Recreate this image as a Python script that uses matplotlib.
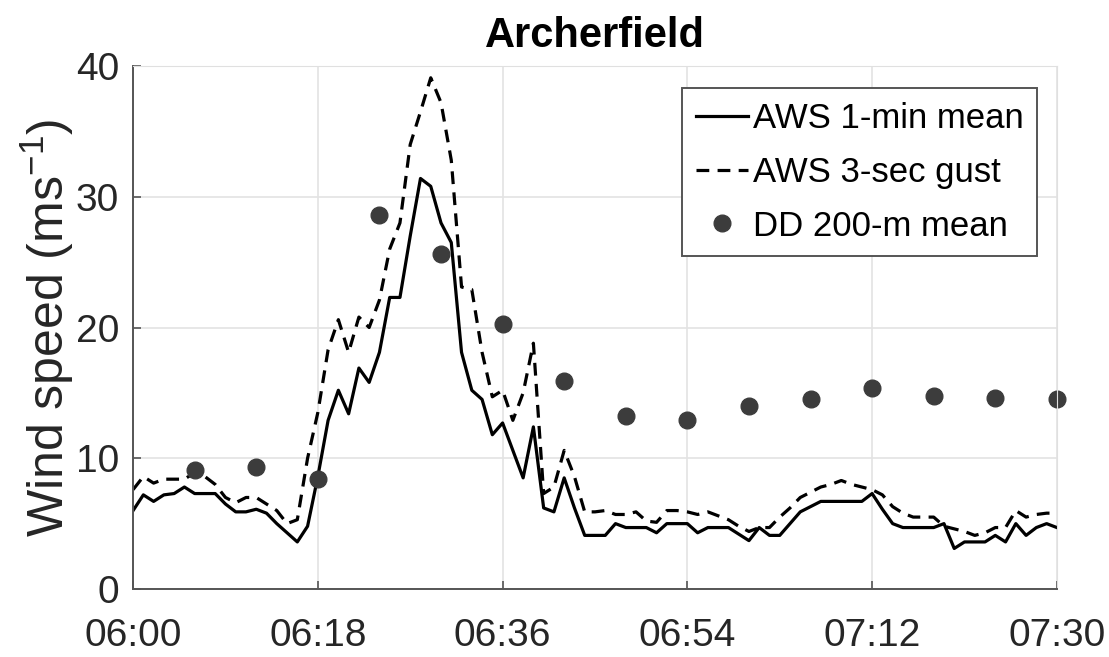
import matplotlib
matplotlib.use('Agg')
import matplotlib.pyplot as plt

#-----------------DATA-----------------

# minutes after 06:00, one sample per minute
minutes = list(range(0, 91))

# AWS 1-min mean wind speed (m/s)
aws_mean = [6.0, 7.2, 6.7, 7.2, 7.3, 7.8, 7.3, 7.3, 7.3, 6.5,
            5.9, 5.9, 6.1, 5.8, 5.0, 4.3, 3.6, 4.8, 8.6, 12.9,
            15.2, 13.4, 16.9, 15.8, 18.1, 22.3, 22.3, 27.0, 31.4, 30.8,
            28.0, 26.5, 18.1, 15.2, 14.5, 11.8, 12.7, 10.6, 8.5, 12.4,
            6.2, 5.9, 8.5, 6.2, 4.1, 4.1, 4.1, 5.0, 4.7, 4.7,
            4.7, 4.3, 5.0, 5.0, 5.0, 4.3, 4.7, 4.7, 4.7, 4.2,
            3.7, 4.7, 4.1, 4.1, 5.0, 5.9, 6.3, 6.7, 6.7, 6.7,
            6.7, 6.7, 7.3, 6.1, 5.0, 4.7, 4.7, 4.7, 4.7, 5.0,
            3.1, 3.6, 3.6, 3.6, 4.1, 3.6, 5.0, 4.1, 4.7, 5.0,
            4.7]

# AWS 3-sec gust (m/s)
aws_gust = [7.6, 8.6, 8.1, 8.4, 8.4, 8.4, 8.9, 8.6, 8.0, 7.0,
            6.6, 7.0, 7.0, 6.5, 6.0, 5.0, 5.3, 10.0, 13.5, 18.3,
            20.6, 18.1, 20.8, 20.0, 22.1, 26.0, 28.0, 34.0, 36.5, 39.1,
            37.2, 32.8, 23.1, 22.9, 18.1, 14.7, 15.2, 12.9, 15.0, 18.8,
            7.3, 7.8, 10.6, 8.6, 5.9, 5.9, 6.0, 5.7, 5.7, 5.9,
            5.2, 5.1, 6.0, 6.0, 5.9, 5.7, 5.9, 5.6, 5.3, 4.8,
            4.4, 4.7, 4.7, 5.5, 6.2, 7.0, 7.4, 7.8, 8.0, 8.3,
            8.0, 7.8, 7.6, 7.2, 6.3, 5.8, 5.5, 5.5, 5.5, 4.8,
            4.6, 4.4, 4.1, 4.3, 4.7, 4.7, 6.0, 5.5, 5.7, 5.8,
            5.8]

# DD 200-m mean, every 6 minutes
dd_minutes = [6, 12, 18, 24, 30, 36, 42, 48, 54, 60, 66, 72, 78, 84, 90]
dd_mean = [9.1, 9.3, 8.4, 28.6, 25.6, 20.3, 15.9, 13.2, 12.9, 14.0,
           14.5, 15.4, 14.8, 14.6, 14.5]

tick_minutes = [0, 18, 36, 54, 72, 90]
tick_labels = ['06:00', '06:18', '06:36', '06:54', '07:12', '07:30']
y_ticks = [0, 10, 20, 30, 40]

#-----------------GRAPH-----------------

plt.rcParams['font.family'] = ['Liberation Sans', 'DejaVu Sans']
plt.rcParams['mathtext.default'] = 'regular'

fig = plt.figure(figsize=(11.09, 6.57), dpi=100)
ax = fig.add_axes([0.12, 0.1035, 0.833, 0.796])

ax.plot(minutes, aws_mean, color='black', lw=2.3, label='AWS 1-min mean')
ax.plot(minutes, aws_gust, color='black', lw=2.3, ls=(0, (4, 2.6)),
        label='AWS 3-sec gust')
ax.plot(dd_minutes, dd_mean, 'o', color='#3c3c3c', ms=12, ls='none',
        label='DD 200-m mean', clip_on=False)

ax.set_xlim(0, 90)
ax.set_ylim(0, 40)
ax.set_xticks(tick_minutes)
ax.set_xticklabels(tick_labels)
ax.set_yticks(y_ticks)

ax.grid(True, color='#e3e3e3', lw=1.2)
ax.set_axisbelow(True)
for side in ['top', 'right']:
    ax.spines[side].set_color('#e0e0e0')
for side in ['left', 'bottom']:
    ax.spines[side].set_color('#555555')
    ax.spines[side].set_linewidth(1.4)

ax.tick_params(direction='in', length=6, color='#555555', width=1.2,
               labelsize=28, labelcolor='#262626')
ax.tick_params(axis='x', pad=21)
ax.tick_params(axis='y', pad=10)

ax.set_ylabel('Wind speed (ms$^{-1}$)', fontsize=36, color='#262626',
              labelpad=0)
ax.set_title('Archerfield', fontsize=30, fontweight='bold', pad=14)

leg = ax.legend(loc='upper right', bbox_to_anchor=(0.979, 0.958), fontsize=25,
                handlelength=1.5, handletextpad=0.15, borderpad=0.4,
                labelspacing=0.6, fancybox=False, framealpha=1,
                borderaxespad=0)
leg.get_frame().set_edgecolor('#555555')
leg.get_frame().set_linewidth(1.4)

fig.savefig('out.png', dpi=100)
